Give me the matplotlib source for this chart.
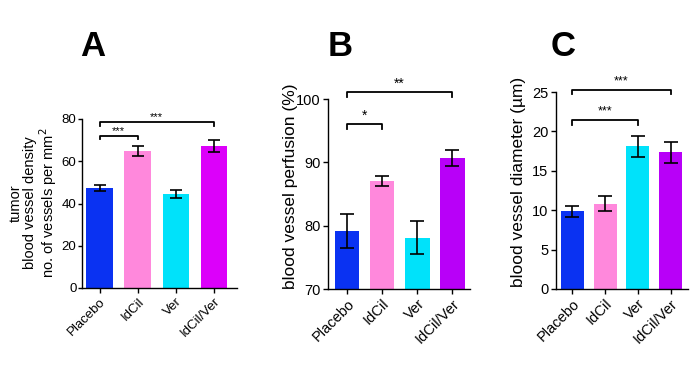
import matplotlib
matplotlib.use("Agg")
import matplotlib.pyplot as plt

plt.rcParams['font.family'] = ['Liberation Sans', 'DejaVu Sans']

categories = ["Placebo", "IdCil", "Ver", "IdCil/Ver"]

density_vals = [47.2, 64.8, 44.6, 67.4]
density_err = [1.5, 2.5, 2.0, 2.8]

perfusion_vals = [79.2, 87.1, 78.1, 90.7]
perfusion_err = [2.7, 0.8, 2.6, 1.3]

diameter_vals = [9.85, 10.85, 18.1, 17.35]
diameter_err = [0.7, 0.9, 1.3, 1.3]

colors_A = ["#0a32f2", "#ff88dc", "#00e2fa", "#dc00fa"]
colors_BC = ["#0a32f2", "#ff88dc", "#00e2fa", "#b800f8"]

W, H = 700, 371
fig = plt.figure(figsize=(7, 3.71), dpi=100)


def make_ax(l, r, b, t):
    return fig.add_axes([l / W, (H - b) / H, (r - l) / W, (b - t) / H])


def style(ax, fs, ylen=3.5, ypad=2):
    for s in ("top", "right"):
        ax.spines[s].set_visible(False)
    for s in ("left", "bottom"):
        ax.spines[s].set_linewidth(1.0)
    ax.tick_params(direction="out", length=3.5, width=1.0, labelsize=fs, pad=2)
    ax.tick_params(axis="y", length=ylen, pad=ypad)
    ax.set_xticks(range(len(categories)))
    ax.set_xticklabels(categories, rotation=45, ha="right", rotation_mode="anchor", fontsize=fs)


def bracket(ax, x1, x2, y, drop, text, fs, tdy):
    ax.plot([x1, x1, x2, x2], [y - drop, y, y, y - drop], color="black", lw=1.3, clip_on=False)
    ax.text((x1 + x2) / 2, y + tdy, text, ha="center", va="center", fontsize=fs, clip_on=False)


def ylab(text, px, py, fs, ls=1.0):
    fig.text(px / W, (H - py) / H, text, rotation=90, ha="center", va="center",
             multialignment="center", fontsize=fs, linespacing=ls)


x = list(range(4))

# Panel A
axA = make_ax(82, 237, 288, 119)
axA.bar(x, density_vals, width=0.7, color=colors_A, zorder=2)
axA.errorbar(x, density_vals, yerr=density_err, fmt="none", ecolor="black", elinewidth=1.2, capsize=4.5, capthick=1.2, zorder=3)
axA.set_xlim(-0.46, 3.6)
axA.set_ylim(0, 80)
axA.set_yticks([0, 20, 40, 60, 80])
style(axA, 9.5, ylen=3, ypad=1)
ylab("tumor\nblood vessel density\nno. of vessels per mm$^2$", 34, 203, 10.5, 1.0)
bracket(axA, 0, 1, 71.8, 1.5, "***", 8, 2.6)
bracket(axA, 0, 3, 78.5, 1.8, "***", 8, 2.6)

# Panel B
axB = make_ax(328, 470, 289, 99)
axB.bar(x, [v - 70 for v in perfusion_vals], bottom=70, width=0.7, color=colors_BC, zorder=2)
axB.errorbar(x, perfusion_vals, yerr=perfusion_err, fmt="none", ecolor="black", elinewidth=1.2, capsize=5, capthick=1.2, zorder=3)
axB.set_xlim(-0.54, 3.5)
axB.set_ylim(70, 100)
axB.set_yticks([70, 80, 90, 100])
style(axB, 10.5)
ylab("blood vessel perfusion (%)", 290, 186, 12.5)
bracket(axB, 0, 1, 96.0, 0.8, "*", 10, 1.3)
bracket(axB, 0, 3, 101.05, 0.7, "**", 10, 1.3)

# Panel C
axC = make_ax(556, 688, 289, 92)
axC.bar(x, diameter_vals, width=0.7, color=colors_BC, zorder=2)
axC.errorbar(x, diameter_vals, yerr=diameter_err, fmt="none", ecolor="black", elinewidth=1.2, capsize=5, capthick=1.2, zorder=3)
axC.set_xlim(-0.5, 3.53)
axC.set_ylim(0, 25)
axC.set_yticks([0, 5, 10, 15, 20, 25])
style(axC, 10.5)
ylab("blood vessel diameter (µm)", 518, 182, 12.5)
bracket(axC, 0, 2, 21.4, 0.6, "***", 9, 1.1)
bracket(axC, 0, 3, 25.3, 0.55, "***", 9, 1.1)

# Panel letters
for lbl, px in (("A", 93), ("B", 340), ("C", 563)):
    fig.text(px / W, (H - 46) / H, lbl, ha="center", va="center", fontsize=25, fontweight="bold")

fig.savefig("out.png", dpi=100)
